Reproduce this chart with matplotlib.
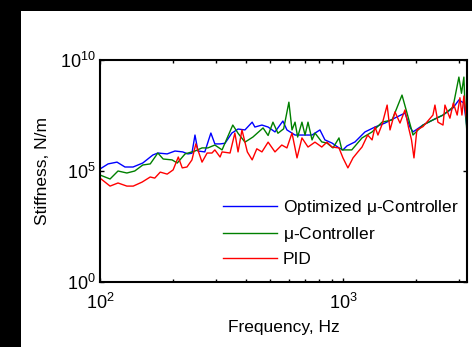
import numpy as np
import matplotlib
matplotlib.use("Agg")
from matplotlib import pyplot as plt
from matplotlib.patches import Rectangle
from matplotlib.ticker import NullLocator

plt.rcParams['font.family'] = ['Liberation Sans', 'DejaVu Sans']
plt.rcParams['mathtext.fontset'] = 'custom'
plt.rcParams['mathtext.rm'] = 'Liberation Sans'
plt.rcParams['mathtext.it'] = 'Liberation Sans'

# Optimized mu-Controller (Hz, log10 of N/m)
f_opt = [100, 108, 117.5, 126.7, 136.8, 150, 165, 173, 189, 203.5, 219, 230, 239, 246, 253,
         270, 286, 297, 312, 327, 349, 370, 395, 423, 434, 464, 492, 525, 566, 588,
         635, 678, 746, 804, 843, 901, 963, 1000, 1039, 1121, 1232, 1355, 1489, 1637, 1800,
         1887, 1942, 2135, 2346, 2581, 2837, 3000, 3146, 3240]
k_opt = [5.09, 5.32, 5.40, 5.18, 5.18, 5.36, 5.72, 5.81, 5.77, 5.90, 5.86, 5.77, 5.8, 6.62, 5.9,
         5.86, 6.71, 6.22, 6.22, 6.25, 6.71, 6.89, 6.85, 7.2, 6.98, 7.07, 6.98, 6.76, 7.25, 6.85,
         6.62, 6.62, 6.62, 6.85, 6.4, 6.26, 6.04, 5.95, 6.13, 6.31, 6.76, 6.98, 7.16, 7.39, 7.61,
         6.98, 6.76, 7.07, 7.3, 7.52, 7.84, 8.2, 8.06, 6.94]

# mu-Controller
f_mu = [100, 110, 118.6, 129, 139, 150, 161, 173, 182, 198, 208, 224, 246, 263, 278,
        297, 318, 327, 352, 370, 395, 426, 469, 492, 515, 540, 570, 599, 617, 635,
        651, 678, 698, 718, 746, 767, 818, 859, 910, 963, 990, 1087, 1198, 1318, 1449,
        1593, 1750, 1835, 1942, 2135, 2346, 2581, 2837, 3000, 3075, 3146, 3177, 3240]
k_mu = [4.82, 4.64, 5.0, 4.91, 5.0, 5.27, 5.32, 5.81, 5.54, 5.5, 5.36, 5.77, 5.9, 6.04, 6.04,
        6.17, 5.95, 6.26, 7.07, 6.7, 6.3, 6.53, 6.94, 6.6, 7.2, 6.7, 6.9, 8.1, 6.85, 7.2,
        6.53, 7.2, 6.62, 7.2, 6.4, 6.71, 6.31, 6.26, 6.04, 6.49, 5.95, 5.95, 6.49, 6.76, 7.2,
        7.3, 8.42, 7.61, 6.62, 7.07, 7.3, 7.52, 7.88, 9.23, 8.5, 9.23, 8.0, 6.7]

# PID
f_pid = [100, 110, 118.6, 129, 137, 149, 161, 168, 177, 189, 200, 210, 218, 228, 239,
         248, 263, 276, 289, 297, 312, 318, 343, 359, 370, 384, 404, 423, 442, 464,
         492, 525, 560, 588, 617, 647, 678, 718, 767, 818, 859, 901, 963, 1000, 1048,
         1100, 1152, 1198, 1264, 1318, 1355, 1393, 1449, 1520, 1562, 1637, 1717, 1800, 1860, 1915,
         1960, 2015, 2135, 2235, 2346, 2391, 2460, 2581, 2629, 2756, 2846, 2952, 3030, 3088, 3146,
         3210, 3240]
k_pid = [4.68, 4.32, 4.46, 4.32, 4.32, 4.5, 4.73, 4.68, 4.95, 4.86, 5.05, 5.63, 5.14, 5.18, 5.5,
         6.22, 5.4, 5.81, 5.81, 5.95, 5.63, 5.86, 5.81, 6.71, 5.86, 6.85, 5.86, 5.5, 6.0, 5.86,
         6.3, 5.86, 6.17, 6.04, 6.71, 5.59, 6.49, 6.08, 6.3, 6.08, 6.3, 6.08, 6.04, 5.59, 5.14,
         5.59, 5.86, 6.08, 6.62, 6.4, 6.98, 6.62, 7.1, 7.97, 6.85, 7.66, 7.16, 7.75, 6.98, 6.4,
         5.59, 6.85, 7.0, 7.25, 7.52, 7.97, 7.2, 7.07, 7.97, 7.38, 8.06, 7.52, 8.3, 7.52, 8.38,
         7.52, 7.3]

fig = plt.figure(figsize=(4.72, 3.47), dpi=100, facecolor='black')
fig.patches.append(Rectangle((21 / 472, 0), 1, 1 - 11 / 347, transform=fig.transFigure,
                             facecolor='white', edgecolor='none', zorder=-10))

ax = fig.add_axes([100 / 472, 1 - 282 / 347, 367 / 472, 222 / 347])
ax.plot(f_opt, 10.0 ** np.array(k_opt), color='#0000ff', lw=1.0, label=r'Optimized $\mathrm{\mu}$-Controller')
ax.plot(f_mu, 10.0 ** np.array(k_mu), color='#008000', lw=1.0, label=r'$\mathrm{\mu}$-Controller')
ax.plot(f_pid, 10.0 ** np.array(k_pid), color='#ff0000', lw=1.0, label='PID')

ax.set_xscale('log')
ax.set_yscale('log')
ax.set_xlim(100, 3240)
ax.set_ylim(1, 1e10)
ax.set_yticks([1, 1e5, 1e10])
ax.yaxis.set_minor_locator(NullLocator())
ax.tick_params(which='both', direction='in', top=True, right=True, labelsize=13, width=1)
ax.tick_params(which='major', length=3)
ax.tick_params(which='minor', length=2)
ax.tick_params(axis='x', pad=8)
ax.tick_params(axis='y', pad=3)
for s in ax.spines.values():
    s.set_linewidth(1.5)

ax.set_xlabel('Frequency, Hz', fontsize=12.5, labelpad=5)
ax.set_ylabel('Stiffness, N/m', fontsize=12.5, labelpad=7)

ax.legend(loc='upper left', bbox_to_anchor=(223 / 472, 1 - 198 / 347),
          bbox_transform=fig.transFigure, frameon=False, fontsize=12.5,
          handlelength=3.1, handletextpad=0.35, borderpad=0, borderaxespad=0,
          labelspacing=0.45)

fig.savefig('out.png', dpi=100, facecolor=fig.get_facecolor())
